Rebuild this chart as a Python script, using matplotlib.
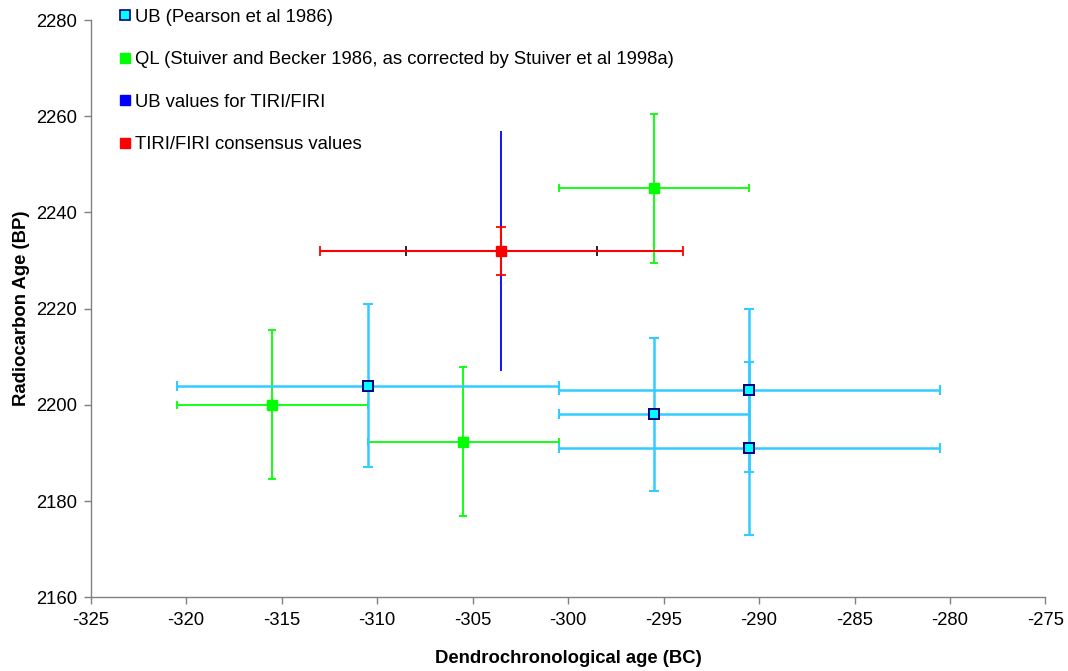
import matplotlib.pyplot as plt
from matplotlib.lines import Line2D

# UB (Pearson et al 1986)
ub_x = [-310.5, -295.5, -290.5, -290.5]
ub_y = [2204, 2198, 2203, 2191]
ub_xerr = [10, 5, 10, 10]
ub_yerr = [17, 16, 17, 18]

# QL (Stuiver and Becker 1986, corrected)
ql_x = [-315.5, -305.5, -295.5]
ql_y = [2200, 2192.3, 2245]
ql_xerr = [5, 5, 5]
ql_yerr = [15.5, 15.5, 15.5]

# UB values for TIRI/FIRI
tiri_x = [-303.5]
tiri_y = [2232]
tiri_yerr = [25]

# TIRI/FIRI consensus
cons_x = [-303.5]
cons_y = [2232]
cons_xerr = [9.5]
cons_xerr_inner = [5]
cons_yerr = [5]

labels = ["UB (Pearson et al 1986)",
          "QL (Stuiver and Becker 1986, as corrected by Stuiver et al 1998a)",
          "UB values for TIRI/FIRI",
          "TIRI/FIRI consensus values"]

plt.rcParams['font.family'] = ['Liberation Sans', 'DejaVu Sans']
plt.rcParams['axes.unicode_minus'] = False

fig = plt.figure(figsize=(10.68, 6.71), dpi=100)
ax = fig.add_axes([0.0849, 0.110, 0.894, 0.860])

cyan_line = "#33CCFF"
green = "#00FF00"
fs = 13.3

ax.errorbar(ql_x, ql_y, xerr=ql_xerr, yerr=ql_yerr, fmt="s", color=green,
            ecolor=green, elinewidth=1.3, capsize=3, capthick=1.3,
            ms=6.5, mec=green, zorder=2)
ax.errorbar(ub_x, ub_y, xerr=ub_xerr, yerr=ub_yerr, fmt="none",
            ecolor=cyan_line, elinewidth=1.8, capsize=3.3, capthick=1.5, zorder=3)
ax.errorbar(tiri_x, tiri_y, yerr=tiri_yerr, fmt="none", ecolor="#0000FF",
            elinewidth=1.3, capsize=0, zorder=4)
ax.errorbar(cons_x, cons_y, xerr=cons_xerr_inner, fmt="none", ecolor="black",
            elinewidth=1.3, capsize=3.3, capthick=1.2, zorder=5)
ax.errorbar(cons_x, cons_y, xerr=cons_xerr, yerr=cons_yerr, fmt="s",
            color="#FF0000", ecolor="#FF0000", elinewidth=1.5, capsize=3.3,
            capthick=1.3, ms=6.5, mec="#FF0000", zorder=6)
ax.plot(ub_x, ub_y, "s", ms=6.5, mfc="#00FFFF", mec="#000080", mew=1.4,
        linestyle="none", zorder=7)

ax.set_xlim(-325, -275)
ax.set_ylim(2160, 2280)
ax.set_xticks(range(-325, -274, 5))
ax.set_yticks(range(2160, 2281, 20))
ax.spines["top"].set_visible(False)
ax.spines["right"].set_visible(False)
for s in ("left", "bottom"):
    ax.spines[s].set_color("#808080")
    ax.spines[s].set_linewidth(1.0)
ax.tick_params(axis="both", length=5, width=1, color="#808080",
               labelsize=fs)
ax.tick_params(axis="x", pad=6)
ax.tick_params(axis="y", pad=5)

ax.set_xlabel("Dendrochronological age (BC)", fontsize=fs, fontweight="bold",
              labelpad=15)
ax.set_ylabel("Radiocarbon Age (BP)", fontsize=fs, fontweight="bold",
              labelpad=4)

handles = [
    Line2D([], [], marker="s", ls="none", ms=6.5, mfc="#00FFFF", mec="#000080", mew=1.2),
    Line2D([], [], marker="s", ls="none", ms=6.5, mfc=green, mec=green),
    Line2D([], [], marker="s", ls="none", ms=6.5, mfc="#0000FF", mec="#0000FF"),
    Line2D([], [], marker="s", ls="none", ms=6.5, mfc="#FF0000", mec="#FF0000"),
]
fig.legend(handles, labels, loc="upper left", bbox_to_anchor=(0.1127, 0.987),
           frameon=False, fontsize=fs, handlelength=0.5, handletextpad=0.3,
           labelspacing=1.38, borderpad=0, borderaxespad=0)

fig.savefig("out.png", dpi=100)
